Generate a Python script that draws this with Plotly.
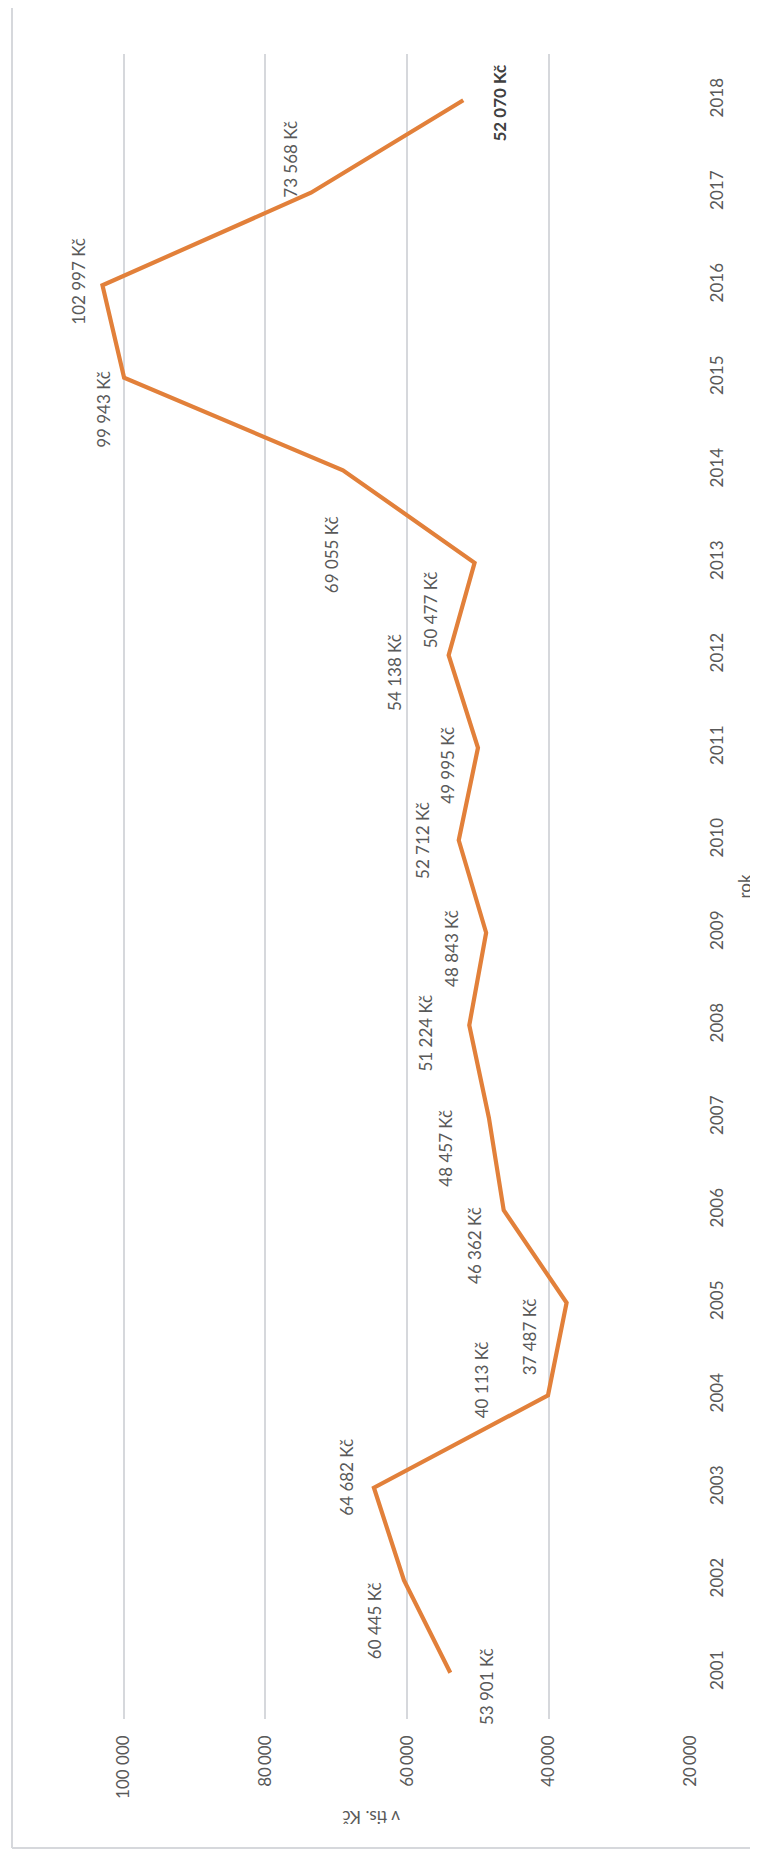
import plotly.graph_objects as go

# ---- data ----
years = [2001, 2002, 2003, 2004, 2005, 2006, 2007, 2008, 2009,
         2010, 2011, 2012, 2013, 2014, 2015, 2016, 2017, 2018]
values = [53901, 60445, 64682, 40113, 37487, 46362, 48457, 51224, 48843,
          52712, 49995, 54138, 50477, 69055, 99943, 102997, 73568, 52070]
value_labels = ["53 901 Kč", "60 445 Kč", "64 682 Kč", "40 113 Kč", "37 487 Kč",
                "46 362 Kč", "48 457 Kč", "51 224 Kč", "48 843 Kč", "52 712 Kč",
                "49 995 Kč", "54 138 Kč", "50 477 Kč", "69 055 Kč", "99 943 Kč",
                "102 997 Kč", "73 568 Kč", "52 070 Kč"]
value_ticks = [20000, 40000, 60000, 80000, 100000]
value_tick_labels = ["20\u2009000", "40\u2009000", "60\u2009000", "80\u2009000", "100 000"]
year_tick_labels = [str(y) for y in years]
x_title = "v tis. Kč"
y_title = "rok"

# ---- label placement (pixel offsets, style only) ----
label_dx = [36, -30, -27, -67, -37, -29, -43, -44, -34, -36, -30, -54, -44, -12, -20, -24, -20, 36]
label_dy = [14, 40, -11, -15, 34, 35, 30, 8, 16, 0, 17, 17, 47, 84, 32, -4, -34, 3]

# page has an 8px body margin: the figure starts at (8, 8)
OFF = 8
W, H = 758 - OFF, 1856 - OFF
ML, MR, MT, MB = 95 - OFF, 67, 54 - OFF, 137
PW, PH = W - ML - MR, H - MT - MB

FONT = "Lato, 'Open Sans', sans-serif"
GRAY = "#595959"
GRID = "#D6D8DC"
ORANGE = "#E2803A"

def px_to_paper_x(px):  # page pixel -> paper
    return (px - OFF - ML) / PW

def px_to_paper_y(py):
    return (H - MB - (py - OFF)) / PH

fig = go.Figure()
fig.add_trace(go.Scatter(
    x=values, y=years, mode="lines",
    line=dict(color=ORANGE, width=4.2),
    hoverinfo="skip", showlegend=False,
))

annotations = []
n = len(years)
for i, (yr, v, lab) in enumerate(zip(years, values, value_labels)):
    last = i == n - 1
    annotations.append(dict(
        x=v, y=yr, xref="x", yref="y",
        text=f"<b>{lab}</b>" if last else lab,
        showarrow=False, textangle=-90,
        xanchor="center", yanchor="middle",
        xshift=label_dx[i], yshift=-label_dy[i],
        font=dict(family=FONT, size=17, color="#404040" if last else GRAY),
    ))

annotations.append(dict(
    x=px_to_paper_x(371), y=px_to_paper_y(1818), xref="paper", yref="paper",
    text=x_title, showarrow=False, textangle=180,
    xanchor="center", yanchor="middle",
    font=dict(family=FONT, size=17, color=GRAY),
))

shapes = [
    dict(type="line", xref="paper", yref="paper",
         x0=px_to_paper_x(12), x1=px_to_paper_x(12),
         y0=px_to_paper_y(1848), y1=px_to_paper_y(0),
         line=dict(color=GRID, width=2)),
    dict(type="line", xref="paper", yref="paper",
         x0=px_to_paper_x(12), x1=px_to_paper_x(758),
         y0=px_to_paper_y(1848), y1=px_to_paper_y(1848),
         line=dict(color=GRID, width=2)),
]

fig.update_layout(
    width=W, height=H,
    margin=dict(l=ML, r=MR, t=MT, b=MB, autoexpand=False),
    paper_bgcolor="white", plot_bgcolor="white",
    font=dict(family=FONT, size=17, color=GRAY),
    annotations=annotations, shapes=shapes,
    xaxis=dict(
        range=[104050, 19929],
        tickvals=value_ticks, ticktext=value_tick_labels,
        tickangle=-90, showgrid=True, gridcolor=GRID, gridwidth=2,
        zeroline=False, showline=False, ticks="",
        ticklabelstandoff=12, automargin=False,
        tickfont=dict(family=FONT, size=17, color=GRAY),
    ),
    yaxis=dict(
        range=[2000.5, 2018.5], side="right",
        tickvals=years, ticktext=year_tick_labels,
        tickangle=-90, showgrid=False, zeroline=False, showline=False,
        ticks="", ticklabelstandoff=14, automargin=False,
        tickfont=dict(family=FONT, size=17, color=GRAY),
        title=dict(text=y_title, standoff=13,
                   font=dict(family=FONT, size=17, color=GRAY)),
    ),
)

fig.write_html("out.html")
